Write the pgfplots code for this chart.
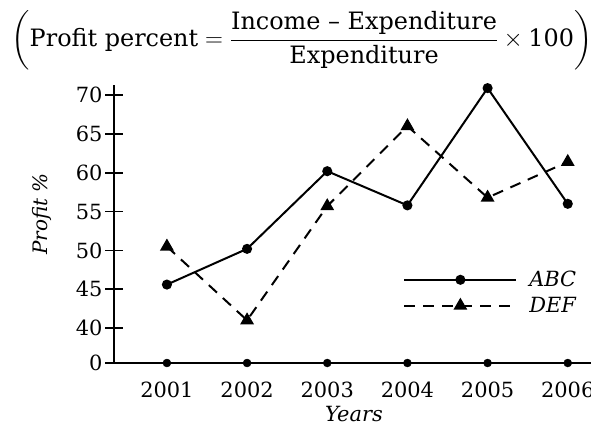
\documentclass[border=0pt]{standalone}
\usepackage{amsmath}
\usepackage{fontspec}
\setmainfont{DejaVu Serif}
\usepackage{pgfplots}
\pgfplotsset{compat=1.18}
\begin{document}
\begin{tikzpicture}
\useasboundingbox (0,0) rectangle (591bp,-431bp);
\begin{axis}[
  at={(114bp,-363bp)}, anchor=south west,
  scale only axis, width=477bp, height=278bp,
  xmin=2000.34, xmax=2006.29, ymin=0, ymax=35.8,
  axis lines*=left, axis line style={-, line width=1.8bp},
  clip=false,
  y filter/.expression={y<1 ? 0 : y-35.5},
  xtick={2001,2002,2003,2004,2005,2006},
  xticklabels={2001,2002,2003,2004,2005,2006},
  xtick style={draw=none},
  ytick={0,4.5,9.5,14.5,19.5,24.5,29.5,34.5},
  yticklabels={0,40,45,50,55,60,65,70},
  major tick length=18bp, tick align=center,
  ytick style={line width=1.6bp, black},
  tick label style={font=\fontsize{21}{25}\selectfont},
  xticklabel style={anchor=base, yshift=-25bp},
  yticklabel style={anchor=east, xshift=1bp},
  xlabel={\itshape Years},
  xlabel style={at={(axis description cs:0.503,-0.212)}, anchor=base, font=\fontsize{21}{25}\selectfont},
  ylabel={\itshape Profit \%},
  ylabel style={at={(axis description cs:-0.151,0.536)}, anchor=center, font=\fontsize{20}{24}\selectfont},
  title={$\left(\text{Profit percent} = \dfrac{\text{Income -- Expenditure}}{\text{Expenditure}}\times\text{100}\right)$},
  title style={at={(axis description cs:0.394,1.247)}, anchor=north, inner sep=0pt, font=\fontsize{24}{29}\selectfont},
  legend image code/.code={\draw[mark repeat=2,mark phase=2,#1] plot coordinates {(0bp,0bp) (56bp,0bp) (112bp,0bp)};},
  legend style={draw=none, fill=none, at={(axis description cs:0.6,0.345)}, anchor=north west,
    font=\fontsize{21}{25}\selectfont\itshape, row sep=5bp,
    /tikz/every odd column/.append style={column sep=10bp}},
  legend cell align=left,
]
\addplot[black, line width=2bp, mark=*, mark size=4bp] coordinates {
  (2001,45.6) (2002,50.2) (2003,60.2) (2004,55.8) (2005,70.9) (2006,56)};
\addlegendentry{ABC}
\addplot[black, line width=2bp, dash pattern=on 11bp off 8bp, mark=triangle*, mark size=6bp, mark options={solid}] coordinates {
  (2001,50.5) (2002,41) (2003,55.7) (2004,66) (2005,56.8) (2006,61.4)};
\addlegendentry{DEF}
\addplot[black, only marks, mark=*, mark size=4bp, forget plot] coordinates {
  (2001,0) (2002,0) (2003,0) (2004,0) (2005,0) (2006,0)};
\end{axis}
\end{tikzpicture}
\end{document}
